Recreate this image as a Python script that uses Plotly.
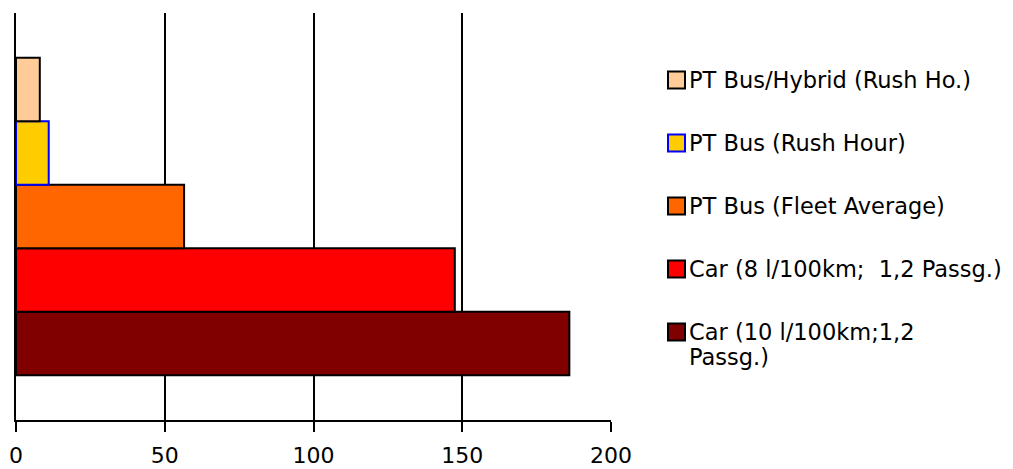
import plotly.graph_objects as go

# Data (legend order, top to bottom)
series_names = [
    "PT Bus/Hybrid (Rush Ho.)",
    "PT Bus (Rush Hour)",
    "PT Bus (Fleet Average)",
    "Car (8 l/100km;  1,2 Passg.)",
    "Car (10 l/100km;1,2\nPassg.)",
]
series_values = [8, 11, 56.5, 147.5, 186]
fill_colors = ["#FFCC99", "#FFCC00", "#FF6600", "#FF0000", "#800000"]
line_colors = ["#000000", "#0000FF", "#000000", "#000000", "#000000"]
category = [""]
x_ticks = [0, 50, 100, 150, 200]

W, H = 1013, 469
L, R, T, B = 16, 402, 13, 49
PW, PH = W - L - R, H - T - B
FONT = "DejaVu Sans"

fig = go.Figure()
# bottom bar first
for name, val, fc, lc in reversed(list(zip(series_names, series_values, fill_colors, line_colors))):
    fig.add_trace(go.Bar(
        y=category, x=[val], orientation="h", name=name.replace("\n", " "),
        marker=dict(color=fc, line=dict(color=lc, width=2)),
        showlegend=False, hoverinfo="x+name",
    ))

# custom legend
def px_x(p):
    return (p - L) / PW

def px_y(p):
    return (H - B - p) / PH

row0, step = 80, 63
for i, (name, fc, lc) in enumerate(zip(series_names, fill_colors, line_colors)):
    cy = row0 + i * step
    fig.add_shape(type="rect", xref="paper", yref="paper",
                  x0=px_x(668), x1=px_x(685), y0=px_y(cy - 8.5), y1=px_y(cy + 8.5),
                  fillcolor=fc, line=dict(color=lc, width=2))
    for j, line in enumerate(name.split("\n")):
        fig.add_annotation(xref="paper", yref="paper", x=px_x(687), y=px_y(cy + j * 25),
                           xanchor="left", yanchor="middle", text=line, showarrow=False,
                           font=dict(family=FONT, size=22.5, color="#000000"))

fig.update_layout(
    width=W, height=H,
    margin=dict(l=L, r=R, t=T, b=B, autoexpand=False),
    paper_bgcolor="white", plot_bgcolor="white",
    barmode="group", bargap=0.22, bargroupgap=0,
    showlegend=False,
    font=dict(family=FONT, size=23, color="#000000"),
)
fig.update_xaxes(
    range=[0, 200], tickvals=x_ticks, ticktext=[str(v) for v in x_ticks],
    showgrid=True, gridcolor="#000000", gridwidth=2,
    showline=True, linecolor="#000000", linewidth=2,
    ticks="outside", ticklen=10, tickcolor="#000000", tickwidth=2,
    ticklabelstandoff=5, automargin=False,
    zeroline=False, tickfont=dict(family=FONT, size=22, color="#000000"),
)
fig.update_yaxes(
    showticklabels=False, showgrid=False, zeroline=False, automargin=False,
    showline=True, linecolor="#000000", linewidth=2, ticks="",
)

fig.write_html("out.html", config={"displayModeBar": False},
               post_script="document.body.style.margin='0';document.body.style.overflow='hidden';")
